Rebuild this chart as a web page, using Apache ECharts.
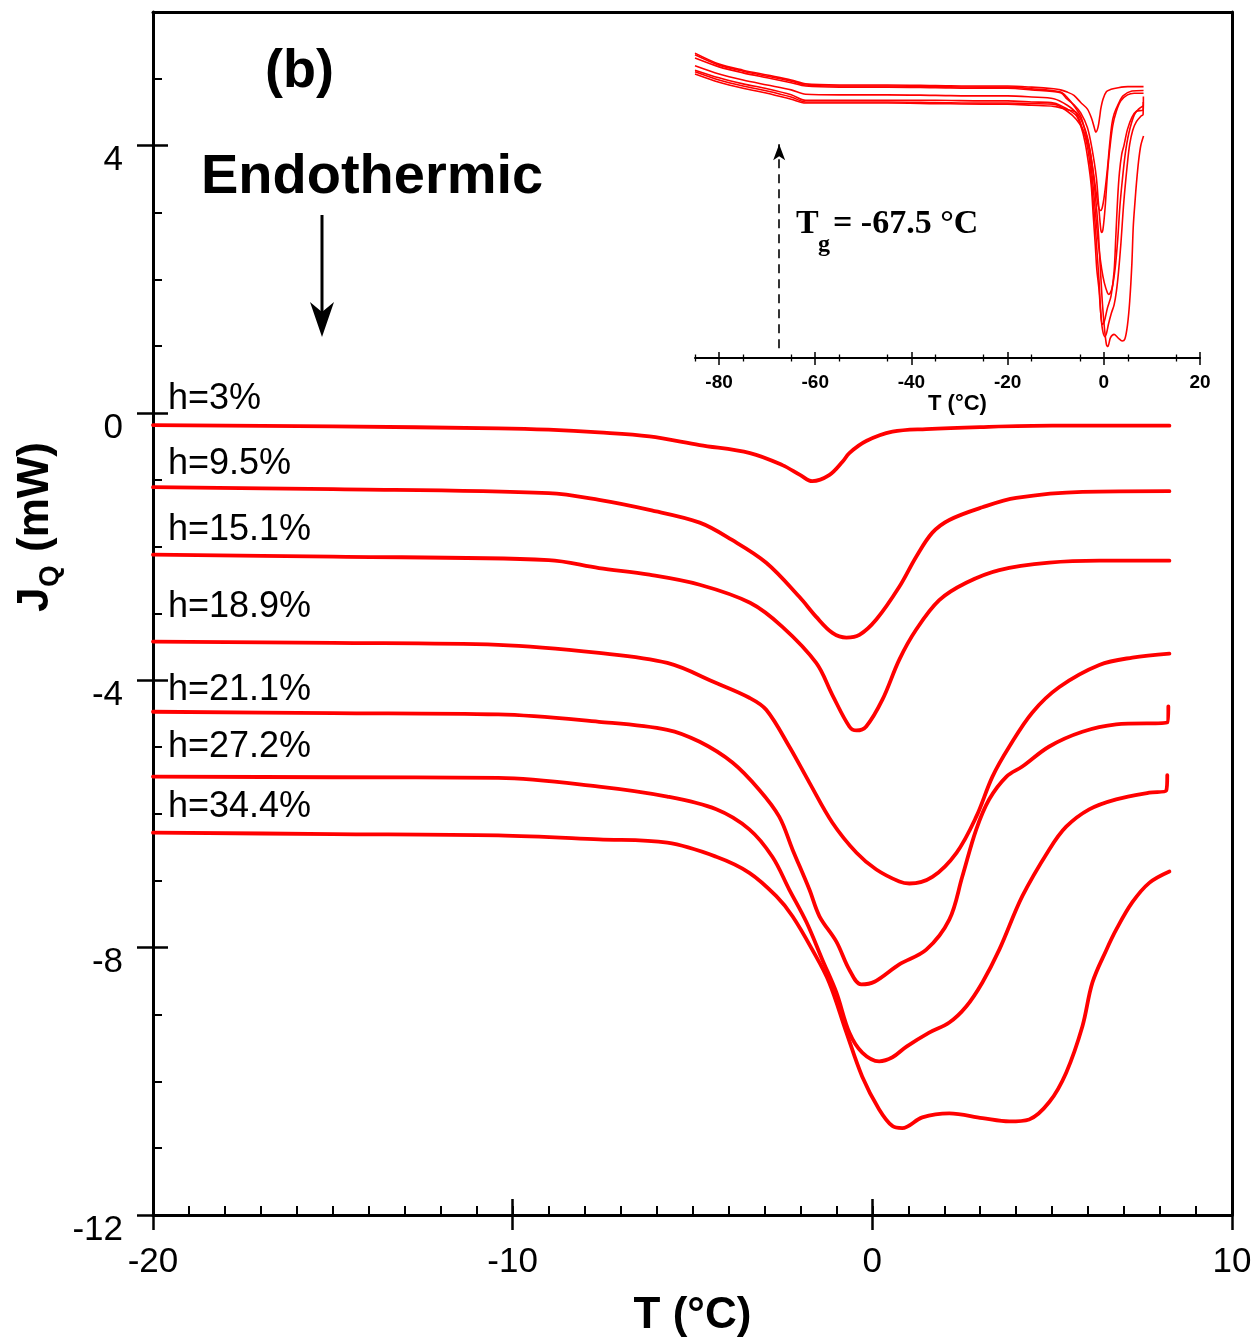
<!DOCTYPE html>
<html>
<head>
<meta charset="utf-8">
<script src="https://cdn.jsdelivr.net/npm/echarts@6/dist/echarts.min.js"></script>
<style>
  html, body { margin: 0; padding: 0; background: #fff; }
  #chart { width: 1257px; height: 1344px; }
</style>
</head>
<body>
<div id="chart"></div>
<script>
// DSC heat-flow traces J_Q (mW) versus temperature T (°C) for seven water contents h.
const traceLabels = ['h=3%', 'h=9.5%', 'h=15.1%', 'h=18.9%', 'h=21.1%', 'h=27.2%', 'h=34.4%'];

const T1 = [-20, -15, -10.4, -9, -7.6, -6.2, -4.8, -3.4, -2.5, -2.0, -1.67, -1.2, -0.83, -0.64, -0.17, 0.56, 1.5, 3.0, 5.0, 8.26];
const J1 = [-0.18, -0.20, -0.23, -0.25, -0.29, -0.35, -0.48, -0.60, -0.78, -0.93, -1.02, -0.93, -0.73, -0.60, -0.42, -0.28, -0.24, -0.21, -0.19, -0.19];

const T2 = [-20, -15, -9, -7.6, -6.2, -4.8, -3.9, -2.95, -2.03, -1.56, -1.11, -0.72, -0.36, 0.11, 0.75, 1.22, 1.67, 2.14, 3.06, 4.0, 5.84, 8.26];
const J2 = [-1.11, -1.14, -1.20, -1.30, -1.45, -1.64, -1.90, -2.24, -2.75, -3.05, -3.29, -3.36, -3.32, -3.09, -2.60, -2.15, -1.79, -1.60, -1.41, -1.27, -1.18, -1.17];

const T3 = [-20, -15, -9, -7.6, -6.2, -4.8, -3.4, -2.5, -1.56, -1.11, -0.64, -0.44, -0.17, 0.28, 0.75, 1.22, 1.86, 2.61, 3.53, 4.92, 6.31, 8.26];
const J3 = [-2.12, -2.15, -2.20, -2.32, -2.42, -2.57, -2.84, -3.20, -3.74, -4.22, -4.69, -4.75, -4.69, -4.29, -3.69, -3.24, -2.80, -2.54, -2.35, -2.24, -2.21, -2.21];

const T4 = [-20, -15, -10.4, -7.6, -5.7, -4.34, -3.42, -2.95, -2.31, -1.75, -1.11, -0.44, 0.11, 0.75, 1.03, 1.67, 2.34, 2.89, 3.34, 3.81, 4.45, 5.2, 6.31, 7.23, 8.26];
const J4 = [-3.42, -3.44, -3.47, -3.59, -3.74, -4.04, -4.26, -4.44, -4.99, -5.53, -6.13, -6.58, -6.83, -7.01, -7.04, -6.94, -6.58, -6.04, -5.44, -4.99, -4.48, -4.10, -3.77, -3.66, -3.60];

const T5 = [-20, -15, -10.4, -7.6, -5.7, -4.8, -3.89, -3.14, -2.59, -2.22, -1.75, -1.47, -1.0, -0.64, -0.31, 0.06, 0.75, 1.5, 2.14, 2.5, 2.89, 3.25, 3.73, 4.17, 4.92, 5.84, 6.78, 8.2, 8.23];
const J5 = [-4.47, -4.49, -4.51, -4.62, -4.74, -4.92, -5.23, -5.64, -6.04, -6.53, -7.13, -7.53, -7.91, -8.33, -8.55, -8.51, -8.25, -8.03, -7.58, -6.94, -6.23, -5.78, -5.44, -5.29, -4.99, -4.77, -4.66, -4.63, -4.39];

const T6 = [-20, -15, -10.4, -7.6, -5.7, -4.34, -3.42, -2.78, -2.31, -1.83, -1.39, -1.0, -0.64, -0.28, 0.19, 0.56, 0.95, 1.58, 2.14, 2.61, 3.06, 3.53, 4.17, 4.92, 5.39, 6.03, 6.78, 7.7, 8.17, 8.2];
const J6 = [-5.44, -5.45, -5.46, -5.59, -5.74, -5.93, -6.23, -6.64, -7.13, -7.62, -8.18, -8.67, -9.27, -9.57, -9.70, -9.64, -9.48, -9.27, -9.12, -8.88, -8.52, -8.03, -7.23, -6.53, -6.19, -5.93, -5.78, -5.68, -5.65, -5.42];

const T7 = [-20, -15, -10.4, -7.6, -5.7, -4.34, -3.42, -2.67, -2.22, -1.67, -1.2, -0.72, -0.28, 0.19, 0.56, 0.83, 1.39, 2.14, 3.06, 3.81, 4.36, 4.92, 5.39, 5.84, 6.12, 6.51, 6.78, 7.23, 7.7, 8.26];
const J7 = [-6.28, -6.30, -6.32, -6.38, -6.43, -6.64, -6.88, -7.23, -7.53, -8.03, -8.52, -9.27, -9.93, -10.42, -10.67, -10.70, -10.54, -10.48, -10.55, -10.60, -10.57, -10.31, -9.87, -9.18, -8.52, -8.03, -7.73, -7.32, -7.03, -6.86];

// Low-temperature part of the full scans (inset), down to -85 °C
const insetLowT = [-85, -80, -75, -70, -65, -62, -55, -45, -35, -25];
const insetLow1 = [0.66, 0.46, 0.35, 0.26, 0.17, 0.10, 0.08, 0.08, 0.07, 0.06];
const insetLow2 = [0.63, 0.44, 0.33, 0.24, 0.15, 0.08, 0.06, 0.06, 0.05, 0.04];
const insetLow3 = [0.57, 0.41, 0.30, 0.21, 0.12, 0.06, 0.04, 0.04, 0.03, 0.02];
const insetLow4 = [0.43, 0.28, 0.17, 0.08, -0.01, -0.09, -0.10, -0.10, -0.11, -0.12];
const insetLow5 = [0.35, 0.21, 0.10, 0.01, -0.10, -0.20, -0.20, -0.20, -0.20, -0.21];
const insetLow6 = [0.32, 0.17, 0.06, -0.03, -0.14, -0.23, -0.23, -0.23, -0.24, -0.25];
const insetLow7 = [0.28, 0.13, 0.02, -0.07, -0.18, -0.25, -0.25, -0.25, -0.26, -0.27];

// Vertical shift applied to each trace in the main panel (mW); the inset shows them unshifted
const traceShift = [0.24, 1.15, 2.14, 3.30, 4.26, 5.19, 6.01];

const yTicks = [-12, -8, -4, 0, 4];
const yMinorTicks = [-11, -10, -9, -7, -6, -5, -3, -2, -1, 1, 2, 3, 5];
const insetTicks = [-80, -60, -40, -20, 0, 20];
const insetMinorTicks = [-85, -75, -65, -55, -45, -35, -25, -15, -5, 5, 15];
const tg = -67.5;

const Ts = [T1, T2, T3, T4, T5, T6, T7];
const Js = [J1, J2, J3, J4, J5, J6, J7];
const insetLows = [insetLow1, insetLow2, insetLow3, insetLow4, insetLow5, insetLow6, insetLow7];

const RED = '#ff0000';
const SANS = '"Liberation Sans", Arial, sans-serif';
const SERIF = '"Liberation Serif", "Times New Roman", serif';

const pair = (xs, ys) => xs.map((x, i) => [x, ys[i]]);

const mainSeries = Ts.map((t, k) => ({
  name: traceLabels[k],
  type: 'line',
  xAxisIndex: 0,
  yAxisIndex: 0,
  data: pair(t, Js[k]),
  showSymbol: false,
  smooth: 0.35,
  lineStyle: { color: RED, width: 3.8, join: 'round', cap: 'round' },
  silent: true
}));

const insetSeries = Ts.map((t, k) => {
  const low = pair(insetLowT, insetLows[k]);
  const high = t.map((x, i) => [x, Js[k][i] + traceShift[k]]);
  const s = {
    name: traceLabels[k] + ' (full scan)',
    type: 'line',
    xAxisIndex: 4,
    yAxisIndex: 4,
    data: low.concat(high),
    showSymbol: false,
    smooth: 0.3,
    lineStyle: { color: RED, width: 1.6 },
    silent: true
  };
  if (k === 0) {
    s.markLine = {
      silent: true,
      symbol: ['none', 'arrow'],
      symbolSize: [9, 16],
      label: { show: false },
      lineStyle: { color: '#000', width: 1.6, type: [9, 6] },
      data: [[{ coord: [tg, -4.72] }, { coord: [tg, -1.0] }]]
    };
  }
  return s;
});

const tickStyle = w => ({ color: '#000', width: w });
const line = (show, w) => ({ show: show, onZero: false, lineStyle: tickStyle(w || 3) });

const option = {
  animation: false,
  backgroundColor: '#fff',
  grid: [
    { left: 153, right: 25, top: 12, bottom: 129, outerBoundsMode: 'none', containLabel: false },
    { left: 695, right: 57, top: 40, bottom: 986, outerBoundsMode: 'none', containLabel: false }
  ],
  xAxis: [
    { gridIndex: 0, type: 'value', min: -20, max: 10, interval: 10, position: 'bottom',
      axisLine: line(true, 3),
      axisTick: { inside: false, length: 15, lineStyle: tickStyle(2.5) },
      axisLabel: { fontSize: 35, color: '#000', margin: 30, fontFamily: SANS },
      splitLine: { show: false },
      name: 'T (°C)', nameLocation: 'middle', nameGap: 79,
      nameTextStyle: { fontSize: 44, fontWeight: 'bold', color: '#000', fontFamily: SANS } },
    { gridIndex: 0, type: 'value', min: -20, max: 10, interval: 10, position: 'bottom',
      axisLine: line(false),
      axisTick: { inside: true, length: 16, lineStyle: tickStyle(2.5) },
      axisLabel: { show: false }, splitLine: { show: false } },
    { gridIndex: 0, type: 'value', min: -20, max: 10, interval: 1, position: 'bottom',
      axisLine: line(false),
      axisTick: { inside: true, length: 9, lineStyle: tickStyle(2) },
      axisLabel: { show: false }, splitLine: { show: false } },
    { gridIndex: 0, type: 'value', min: -20, max: 10, position: 'top',
      axisLine: line(true, 3),
      axisTick: { show: false }, axisLabel: { show: false }, splitLine: { show: false } },
    { gridIndex: 1, type: 'value', min: -85, max: 20, position: 'bottom',
      axisLine: line(true, 2),
      axisTick: { inside: false, length: 7, customValues: insetTicks, lineStyle: tickStyle(1.5) },
      axisLabel: { customValues: insetTicks, fontSize: 19, fontWeight: 'bold', color: '#000', margin: 15, fontFamily: SANS },
      splitLine: { show: false },
      name: 'T (°C)', nameLocation: 'middle', nameGap: 35,
      nameTextStyle: { fontSize: 22, fontWeight: 'bold', color: '#000', fontFamily: SANS, padding: [0, 0, 0, 20] } },
    { gridIndex: 1, type: 'value', min: -85, max: 20, position: 'bottom',
      axisLine: line(false),
      axisTick: { inside: true, length: 6, customValues: insetTicks, lineStyle: tickStyle(1.5) },
      axisLabel: { show: false }, splitLine: { show: false } },
    { gridIndex: 1, type: 'value', min: -85, max: 20, position: 'bottom',
      axisLine: line(false),
      axisTick: { inside: false, length: 3.5, customValues: insetMinorTicks, lineStyle: tickStyle(1.3) },
      axisLabel: { show: false }, splitLine: { show: false } },
    { gridIndex: 1, type: 'value', min: -85, max: 20, position: 'bottom',
      axisLine: line(false),
      axisTick: { inside: true, length: 3.5, customValues: insetMinorTicks, lineStyle: tickStyle(1.3) },
      axisLabel: { show: false }, splitLine: { show: false } }
  ],
  yAxis: [
    { gridIndex: 0, type: 'value', min: -12, max: 6, position: 'left',
      axisLine: line(true, 3),
      axisTick: { inside: false, length: 16, customValues: yTicks, lineStyle: tickStyle(2.5) },
      axisLabel: { customValues: yTicks, fontSize: 35, color: '#000', margin: 30, fontFamily: SANS,
                   verticalAlign: 'top', lineHeight: 30 },
      splitLine: { show: false } },
    { gridIndex: 0, type: 'value', min: -12, max: 6, position: 'left',
      axisLine: line(false),
      axisTick: { inside: true, length: 15, customValues: yTicks, lineStyle: tickStyle(2.5) },
      axisLabel: { show: false }, splitLine: { show: false } },
    { gridIndex: 0, type: 'value', min: -12, max: 6, position: 'left',
      axisLine: line(false),
      axisTick: { inside: true, length: 9, customValues: yMinorTicks, lineStyle: tickStyle(2) },
      axisLabel: { show: false }, splitLine: { show: false } },
    { gridIndex: 0, type: 'value', min: -12, max: 6, position: 'right',
      axisLine: line(true, 3),
      axisTick: { show: false }, axisLabel: { show: false }, splitLine: { show: false } },
    { gridIndex: 1, type: 'value', min: -4.9, max: 0.9, show: false }
  ],
  series: mainSeries.concat(insetSeries),
  graphic: []
};

// Text annotations
const labelY = [399, 464, 530, 607, 690, 747, 807];
const g = option.graphic;
const txt = (x, y, text, font) => ({ type: 'text', x: x, y: y, silent: true,
  style: { text: text, fill: '#000', font: font, align: 'left', verticalAlign: 'middle',
           textAlign: 'left', textVerticalAlign: 'middle' } });
traceLabels.forEach((t, k) => g.push(txt(168, labelY[k], t, '36px ' + SANS)));
g.push(txt(265, 72, '(b)', 'bold 54px ' + SANS));
g.push(txt(201, 178, 'Endothermic', 'bold 56px ' + SANS));
g.push({ type: 'line', silent: true, shape: { x1: 322, y1: 215, x2: 322, y2: 318 },
  style: { stroke: '#000', lineWidth: 3 } });
g.push({ type: 'polygon', silent: true,
  shape: { points: [[322, 337], [310, 302], [322, 312], [334, 302]] },
  style: { fill: '#000' } });
// Tg annotation
g.push(txt(796, 224, 'T', 'bold 34px ' + SERIF));
g.push(txt(818, 245, 'g', 'bold 24px ' + SERIF));
g.push(txt(833, 224, '= -67.5 °C', 'bold 34px ' + SERIF));
// Y axis title J_Q (mW), read bottom to top
g.push({ type: 'group', x: 36, y: 612, rotation: Math.PI / 2, silent: true,
  children: [
    txt(0, 0, 'J', 'bold 44px ' + SANS),
    txt(25, 14, 'Q', 'bold 28px ' + SANS),
    txt(60, 0, '(mW)', 'bold 44px ' + SANS)
  ] });

const chart = echarts.init(document.getElementById('chart'), null, { renderer: 'canvas' });
chart.setOption(option);
</script>
</body>
</html>
